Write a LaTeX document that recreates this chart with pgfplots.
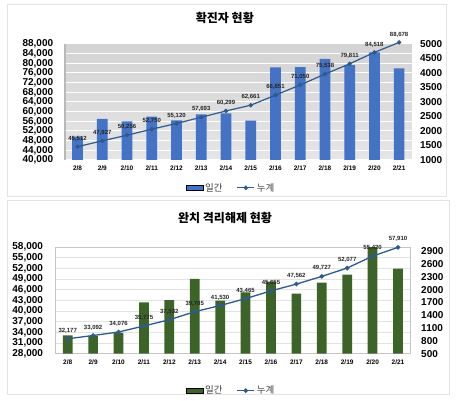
\documentclass[border=0pt]{standalone}
\usepackage{pgfplots}
\pgfplotsset{compat=1.18}
\usepackage{fontspec}
\setmainfont{Liberation Sans}
\newfontfamily\kr{Noto Sans CJK KR}
\definecolor{barblue}{HTML}{4472C4}
\definecolor{linblue}{HTML}{2E5A8E}
\definecolor{bargreen}{HTML}{3D6428}
\definecolor{txtgray}{HTML}{404040}
\pgfplotsset{
  common/.style={scale only axis, xmin=-0.5, xmax=13.5, scaled y ticks=false,
    /pgf/number format/assume math mode=true},
  ticklab/.style={font=\bfseries\fontsize{10}{12}\selectfont},
}
\begin{document}
\begin{tikzpicture}
\useasboundingbox (0,0) rectangle (457pt,400pt);
\fill[white] (0,0) rectangle (457pt,400pt);
\draw[gray!22, line width=0.8pt] (7pt,204pt) rectangle (446pt,396pt);
\draw[gray!22, line width=0.8pt] (7pt,6pt) rectangle (449pt,200pt);

% ===== TOP PANEL =====
\begin{axis}[common, width=346.3pt, height=116pt, at={(65.2pt,356pt)}, anchor=north west,
  ymin=40000, ymax=88000, ytick={40000,44000,...,88000}, yticklabels={}, xtick=\empty,
  ymajorgrids, grid style={white, line width=1pt}, major tick length=0,
  axis background/.style={top color=gray!34, bottom color=gray!20},
  axis x line=none, axis y line*=left, y axis line style={gray!55, line width=1.5pt, -}]
\addplot[draw=none] coordinates {(0,40000)};
\end{axis}
\begin{axis}[common, width=346.3pt, height=116pt, at={(65.2pt,356pt)}, anchor=north west,
  ymin=1000, ymax=5000, ytick={1000,1500,...,5000}, xtick=\empty,
  axis x line=none, axis y line*=right, y axis line style={draw=none}, major tick length=0,
  yticklabel style={ticklab, xshift=5pt}, /pgf/number format/1000 sep={}]
\addplot[ybar, bar width=10.7pt, fill=barblue, draw=none] coordinates {
 (0,1810) (1,2415) (2,2329) (3,2494) (4,2370) (5,2573) (6,2606)
 (7,2362) (8,4190) (9,4199) (10,4488) (11,4273) (12,4707) (13,4160)};
\end{axis}
\begin{axis}[common, width=346.3pt, height=116pt, at={(65.2pt,356pt)}, anchor=north west,
  clip=false,
  ymin=40000, ymax=88000, ytick={40000,44000,...,88000},
  xtick={0,...,13}, xticklabels={2/8,2/9,2/10,2/11,2/12,2/13,2/14,2/15,2/16,2/17,2/18,2/19,2/20,2/21},
  xticklabel style={font=\bfseries\fontsize{6.5}{8}\selectfont, yshift=-2pt},
  axis lines*=left, axis line style={draw=none}, major tick length=0,
  yticklabel style={ticklab, xshift=-8.5pt},
  /pgf/number format/.cd, fixed, precision=0, 1000 sep={,}, /pgfplots/.cd,
  title={\kr\bfseries\fontsize{12}{14}\selectfont 확진자 현황},
  title style={at={(axis description cs:0.461,1.17)}, anchor=center, yshift=0pt},
  legend columns=2,
  legend style={at={(axis description cs:0.479,-0.24)}, anchor=center, draw=none, fill=none,
    font=\kr\fontsize{9.5}{11}\selectfont, text=txtgray,
    /tikz/every even column/.append style={column sep=12pt}}]
\addlegendimage{area legend, fill=barblue, draw=none}
\addlegendentry{일간}
\addplot[linblue, line width=1.2pt, mark=*, mark size=1.6pt, mark options={fill=linblue},
  nodes near coords, nodes near coords style={font=\bfseries\fontsize{6}{7}\selectfont, text=black!85, anchor=south, yshift=1.5pt}]
 coordinates {(0,45512) (1,47927) (2,50256) (3,52750) (4,55120) (5,57693) (6,60299)
 (7,62661) (8,66851) (9,71050) (10,75538) (11,79811) (12,84518) (13,88678)};
\addlegendentry{누계}
\end{axis}

% ===== BOTTOM PANEL =====
\begin{axis}[common, width=355.7pt, height=106.6pt, at={(55pt,153pt)}, anchor=north west,
  ymin=28000, ymax=58000, ytick={28000,31000,...,58000}, yticklabels={}, xtick=\empty,
  ymajorgrids, grid style={gray!22, line width=0.6pt}, major tick length=0,
  axis line style={gray!45, line width=0.6pt, -}, axis lines*=box]
\addplot[draw=none] coordinates {(0,28000)};
\end{axis}
\begin{axis}[common, width=355.7pt, height=106.6pt, at={(55pt,153pt)}, anchor=north west,
  ymin=500, ymax=3000, ytick={500,800,...,2900}, xtick=\empty,
  axis x line=none, axis y line*=right, y axis line style={draw=none}, major tick length=0,
  yticklabel style={ticklab, xshift=7pt}, /pgf/number format/1000 sep={}]
\addplot[ybar, bar width=9.7pt, fill=bargreen, draw=none] coordinates {
 (0,930) (1,915) (2,984) (3,1699) (4,1757) (5,2253) (6,1745)
 (7,1935) (8,2190) (9,1907) (10,2165) (11,2350) (12,3343) (13,2490)};
\end{axis}
\begin{axis}[common, width=355.7pt, height=106.6pt, at={(55pt,153pt)}, anchor=north west,
  clip=false,
  ymin=28000, ymax=58000, ytick={28000,31000,...,58000},
  xtick={0,...,13}, xticklabels={2/8,2/9,2/10,2/11,2/12,2/13,2/14,2/15,2/16,2/17,2/18,2/19,2/20,2/21},
  xticklabel style={font=\bfseries\fontsize{6.5}{8}\selectfont, yshift=-3pt},
  axis lines*=left, axis line style={draw=none}, major tick length=0,
  yticklabel style={ticklab, xshift=-8.5pt},
  /pgf/number format/.cd, fixed, precision=0, 1000 sep={,}, /pgfplots/.cd,
  title={\kr\bfseries\fontsize{12}{14}\selectfont 완치 격리해제 현황},
  title style={at={(axis description cs:0.478,1.215)}, anchor=center, yshift=0pt},
  legend columns=2,
  legend style={at={(axis description cs:0.495,-0.347)}, anchor=center, draw=none, fill=none,
    font=\kr\fontsize{9.5}{11}\selectfont, text=txtgray,
    /tikz/every even column/.append style={column sep=12pt}}]
\addlegendimage{area legend, fill=bargreen, draw=none}
\addlegendentry{일간}
\addplot[linblue, line width=1.3pt, mark=*, mark size=1.6pt, mark options={fill=linblue},
  nodes near coords, nodes near coords style={font=\bfseries\fontsize{6}{7}\selectfont, text=black!85, anchor=south, yshift=1.5pt}]
 coordinates {(0,32177) (1,33092) (2,34076) (3,35775) (4,37532) (5,39785) (6,41530)
 (7,43465) (8,45655) (9,47562) (10,49727) (11,52077) (12,55420) (13,57910)};
\addlegendentry{누계}
\end{axis}
\end{tikzpicture}
\end{document}
